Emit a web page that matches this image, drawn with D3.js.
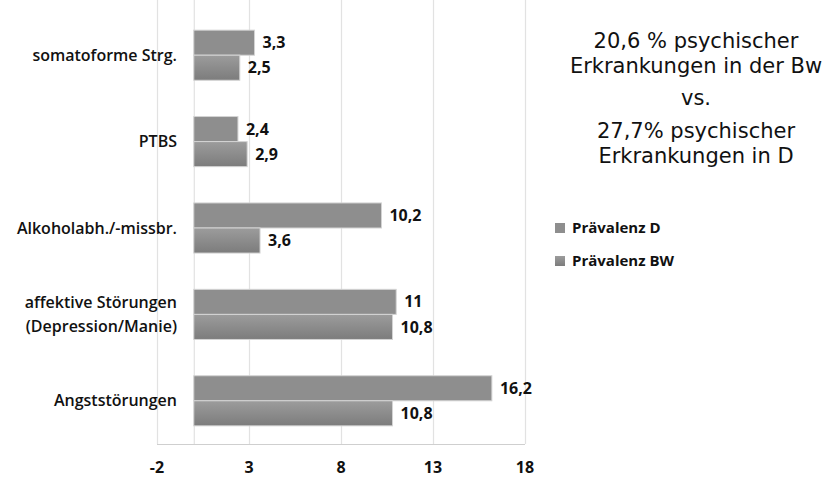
<!DOCTYPE html>
<html>
<head>
<meta charset="utf-8">
<script src="https://cdn.jsdelivr.net/npm/d3@7"></script>
<style>
body { margin: 0; background: #fff; }
</style>
</head>
<body>
<div id="vis"></div>
<script>
var width = 827,
    height = 485;

// categories top -> bottom
var categories = ["somatoforme Strg.", "PTBS", "Alkoholabh./-missbr.", "affektive Störungen\n(Depression/Manie)", "Angststörungen"];
var valuesD = [3.3, 2.4, 10.2, 11, 16.2];
var valuesBW = [2.5, 2.9, 3.6, 10.8, 10.8];
var seriesNames = ["Prävalenz D", "Prävalenz BW"];
var xTicks = [-2, 3, 8, 13, 18];
var noteLines = ["20,6 % psychischer", "Erkrankungen in der Bw", "vs.", "27,7% psychischer", "Erkrankungen in D"];

var labelFont = "'Open Sans', 'Liberation Sans', sans-serif";

var svg = d3.select("#vis").append("svg")
    .attr("width", width)
    .attr("height", height);

var defs = svg.append("defs");
var grad = defs.append("linearGradient")
    .attr("id", "bwGrad")
    .attr("x1", 0).attr("y1", 0).attr("x2", 0).attr("y2", 1);
grad.append("stop").attr("offset", "0%").attr("stop-color", "#9c9c9c");
grad.append("stop").attr("offset", "100%").attr("stop-color", "#7c7c7c");

var x = d3.scaleLinear().domain([-2, 18]).range([157, 525]);
var y = d3.scaleBand().domain(categories).range([12, 444])
    .paddingInner(0.42).paddingOuter(0.21);
var ySub = d3.scaleBand().domain(["D", "BW"]).range([0, y.bandwidth()]);

//----------GRID---------//
svg.append("g").selectAll("line")
    .data(xTicks)
    .enter().append("line")
    .attr("x1", function(d) { return x(d) + 0.5; })
    .attr("x2", function(d) { return x(d) + 0.5; })
    .attr("y1", 0)
    .attr("y2", 444)
    .style("stroke", "#e2e2e2")
    .style("stroke-width", 1.2);

// zero line (category axis)
svg.append("line")
    .attr("x1", x(0) + 0.5).attr("x2", x(0) + 0.5)
    .attr("y1", 0).attr("y2", 444)
    .style("stroke", "#e2e2e2")
    .style("stroke-width", 1.2);

// x axis line
svg.append("line")
    .attr("x1", x(-2)).attr("x2", x(18))
    .attr("y1", 444.5).attr("y2", 444.5)
    .style("stroke", "#cfcfcf")
    .style("stroke-width", 1.2);

//----------BARS---------//
var groups = svg.selectAll(".grp")
    .data(categories)
    .enter().append("g")
    .attr("class", "grp")
    .attr("transform", function(d) { return "translate(0," + y(d) + ")"; });

groups.append("rect")
    .attr("x", x(0))
    .attr("y", ySub("D"))
    .attr("width", function(d, i) { return x(valuesD[i]) - x(0); })
    .attr("height", ySub.bandwidth())
    .style("fill", "#8e8e8e")
    .style("stroke", "#d4d4d4")
    .style("stroke-width", 1);

groups.append("rect")
    .attr("x", x(0))
    .attr("y", ySub("BW"))
    .attr("width", function(d, i) { return x(valuesBW[i]) - x(0); })
    .attr("height", ySub.bandwidth())
    .style("fill", "url(#bwGrad)")
    .style("stroke", "#d4d4d4")
    .style("stroke-width", 1);

var fmt = function(v) { return String(v).replace(".", ","); };

groups.append("text")
    .attr("x", function(d, i) { return x(valuesD[i]) + 8; })
    .attr("y", ySub("D") + ySub.bandwidth() / 2)
    .attr("dy", "0.35em")
    .style("font-family", labelFont)
    .style("font-weight", "bold")
    .style("font-size", "16px")
    .style("fill", "#111")
    .text(function(d, i) { return fmt(valuesD[i]); });

groups.append("text")
    .attr("x", function(d, i) { return x(valuesBW[i]) + 8; })
    .attr("y", ySub("BW") + ySub.bandwidth() / 2)
    .attr("dy", "0.35em")
    .style("font-family", labelFont)
    .style("font-weight", "bold")
    .style("font-size", "16px")
    .style("fill", "#111")
    .text(function(d, i) { return fmt(valuesBW[i]); });

//----------CATEGORY LABELS---------//
groups.each(function(d) {
    var lines = d.split("\n");
    var t = d3.select(this).append("text")
        .attr("text-anchor", "end")
        .style("font-family", labelFont)
        .style("font-weight", "600")
        .style("font-size", "16px")
        .style("fill", "#111");
    var lh = 24;
    var start = y.bandwidth() / 2 - (lines.length - 1) * lh / 2;
    lines.forEach(function(l, k) {
        t.append("tspan")
            .attr("x", 177)
            .attr("y", start + k * lh)
            .attr("dy", "0.35em")
            .text(l);
    });
});

//----------X TICK LABELS---------//
svg.append("g").selectAll("text")
    .data(xTicks)
    .enter().append("text")
    .attr("x", function(d) { return x(d); })
    .attr("y", 473)
    .attr("text-anchor", "middle")
    .style("font-family", labelFont)
    .style("font-weight", "bold")
    .style("font-size", "16px")
    .style("fill", "#111")
    .text(function(d) { return d; });

//----------LEGEND---------//
var legend = svg.append("g");
var legItem = legend.selectAll("g")
    .data(seriesNames)
    .enter().append("g")
    .attr("transform", function(d, i) { return "translate(555," + (228 + i * 33) + ")"; });

legItem.append("rect")
    .attr("x", 0).attr("y", -5)
    .attr("width", 10).attr("height", 10)
    .style("fill", function(d, i) { return i === 0 ? "#8e8e8e" : "url(#bwGrad)"; });

legItem.append("text")
    .attr("x", 17)
    .attr("dy", "0.35em")
    .style("font-family", labelFont)
    .style("font-weight", "bold")
    .style("font-size", "15px")
    .style("fill", "#111")
    .text(function(d) { return d; });

//----------NOTE---------//
var noteY = [48, 73, 105, 138, 163];
svg.append("g").selectAll("text")
    .data(noteLines)
    .enter().append("text")
    .attr("x", 696)
    .attr("y", function(d, i) { return noteY[i]; })
    .attr("text-anchor", "middle")
    .style("font-family", "'DejaVu Sans', Verdana, sans-serif")
    .style("font-size", "21px")
    .style("fill", "#111")
    .text(function(d) { return d; });
</script>
</body>
</html>
